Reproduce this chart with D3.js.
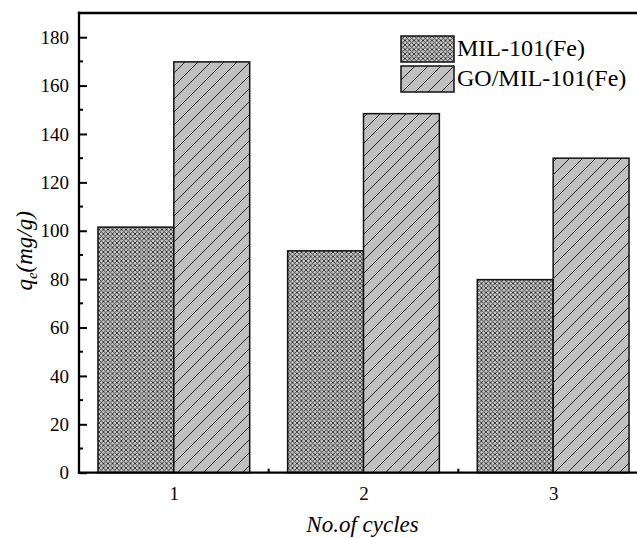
<!DOCTYPE html>
<html>
<head>
<meta charset="utf-8">
<script src="https://cdn.jsdelivr.net/npm/d3@7"></script>
<style>
  html, body { margin: 0; padding: 0; background: #fff; }
  svg { display: block; overflow: hidden; }
</style>
</head>
<body>
<svg id="chart" width="637" height="538"></svg>
<script>
// Adsorption capacity over reuse cycles
const cycles = [1, 2, 3];
const seriesNames = ["MIL-101(Fe)", "GO/MIL-101(Fe)"];
const milValues = [101.5, 91.7, 79.8];
const goMilValues = [169.8, 148.4, 130.0];
const yTicks = [0, 20, 40, 60, 80, 100, 120, 140, 160, 180];
const yMinorTicks = [10, 30, 50, 70, 90, 110, 130, 150, 170];
const xMinorTicks = [1.5, 2.5];

const serif = "'Liberation Serif'";
const svg = d3.select("#chart");
const plotL = 79, plotR = 648, plotT = 13, plotB = 472.7;

const x = d3.scaleLinear().domain([0.5, 3.5]).range([plotL, plotR]);
const y = d3.scaleLinear().domain([0, 190]).range([plotB, plotT]);
const barW = x(1.4) - x(1);

// hatch fills
const defs = svg.append("defs");
const cs = 4.5;
const cross = defs.append("pattern")
  .attr("id", "crossHatch").attr("patternUnits", "userSpaceOnUse")
  .attr("width", cs).attr("height", cs);
cross.append("rect").attr("width", cs).attr("height", cs).attr("fill", "#c8c8c8");
cross.append("path").attr("d", `M0,0L${cs},${cs}M${cs},0L0,${cs}`)
  .attr("stroke", "#222").attr("stroke-width", 0.85);

const ds = 13;
const diag = defs.append("pattern")
  .attr("id", "diagHatch").attr("patternUnits", "userSpaceOnUse")
  .attr("width", ds).attr("height", ds);
diag.append("rect").attr("width", ds).attr("height", ds).attr("fill", "#c0c0c0");
diag.append("path").attr("d", `M-1,${ds + 1}L${ds + 1},-1M-2,2L2,-2M${ds - 2},${ds + 2}L${ds + 2},${ds - 2}`)
  .attr("stroke", "#111").attr("stroke-width", 0.9);

const fills = ["url(#crossHatch)", "url(#diagHatch)"];
const data = [milValues, goMilValues];

// bars
data.forEach((vals, s) => {
  svg.append("g").selectAll("rect")
    .data(cycles.map((c, i) => ({ c, v: vals[i] })))
    .join("rect")
    .attr("x", d => s === 0 ? x(d.c) - barW : x(d.c))
    .attr("y", d => y(d.v))
    .attr("width", barW)
    .attr("height", d => y(0) - y(d.v))
    .attr("fill", fills[s])
    .attr("stroke", "#111")
    .attr("stroke-width", 1.5);
});

// y axis
const yAxis = svg.append("g").attr("transform", `translate(${plotL},0)`)
  .call(d3.axisLeft(y).tickValues(yTicks).tickSize(-8).tickPadding(10).tickFormat(d3.format("d")));
yAxis.selectAll("text").style("font-size", "19px").style("font-family", serif).attr("fill", "#000");
yAxis.selectAll(".tick line").attr("stroke-width", 2);
yAxis.select(".domain").remove();
yAxis.selectAll(".minor").data(yMinorTicks).join("line")
  .attr("x1", 0).attr("x2", 4).attr("y1", d => y(d)).attr("y2", d => y(d))
  .attr("stroke", "#000").attr("stroke-width", 2);

// x axis
const xAxis = svg.append("g").attr("transform", `translate(0,${plotB})`)
  .call(d3.axisBottom(x).tickValues(cycles).tickSize(0).tickPadding(14).tickFormat(d3.format("d")));
xAxis.selectAll("text").style("font-size", "19px").style("font-family", serif).attr("fill", "#000");
xAxis.select(".domain").remove();
xAxis.selectAll(".minor").data(xMinorTicks).join("line")
  .attr("x1", d => x(d)).attr("x2", d => x(d)).attr("y1", 0).attr("y2", -4)
  .attr("stroke", "#000").attr("stroke-width", 2);

// frame lines
const frame = [
  [plotL, plotB, plotR, plotB],
  [plotL, plotT, plotL, plotB],
  [plotL, plotT, plotR, plotT],
  [plotR, plotT, plotR, plotB]
];
svg.append("g").selectAll("line").data(frame).join("line")
  .attr("x1", d => d[0]).attr("y1", d => d[1]).attr("x2", d => d[2]).attr("y2", d => d[3])
  .attr("stroke", "#000").attr("stroke-width", 2.3).attr("stroke-linecap", "square");

// axis titles
svg.append("text")
  .attr("x", (plotL + plotR) / 2 - 1).attr("y", 532)
  .attr("text-anchor", "middle")
  .style("font-family", serif)
  .style("font-size", "23px").style("font-style", "italic")
  .text("No.of cycles");

const yt = svg.append("text")
  .attr("transform", `translate(32,${(plotT + plotB) / 2 + 8}) rotate(-90)`)
  .attr("text-anchor", "middle")
  .style("font-family", serif)
  .style("font-size", "23px").style("font-style", "italic");
yt.append("tspan").text("q");
yt.append("tspan").attr("dy", 5).style("font-size", "15px").text("e");
yt.append("tspan").attr("dy", -5).text("(mg/g)");

// legend
const legend = svg.append("g");
seriesNames.forEach((name, i) => {
  const ly = 36 + i * 30;
  legend.append("rect")
    .attr("x", 401).attr("y", ly).attr("width", 53).attr("height", 26)
    .attr("fill", fills[i]).attr("stroke", "#111").attr("stroke-width", 1.5);
  legend.append("text")
    .attr("x", 457).attr("y", ly + 20)
    .style("font-family", serif)
    .style("font-size", "24px")
    .text(name);
});
</script>
</body>
</html>
